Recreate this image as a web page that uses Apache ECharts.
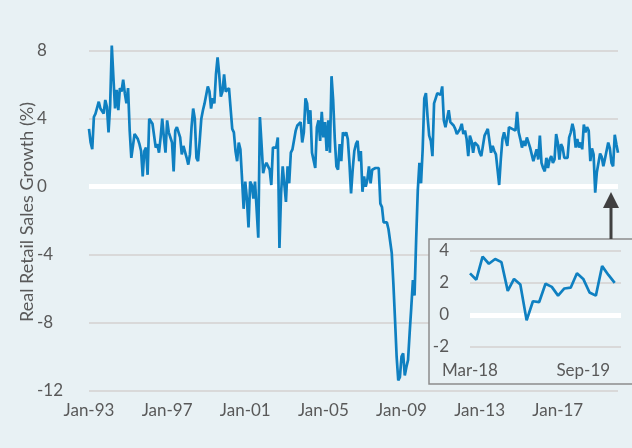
<!DOCTYPE html>
<html>
<head>
<meta charset="utf-8">
<script src="https://cdn.jsdelivr.net/npm/echarts@6/dist/echarts.min.js"></script>
<style>
  html, body { margin: 0; padding: 0; background: #e8f1f4; }
  #chart { width: 632px; height: 448px; }
</style>
</head>
<body>
<div id="chart"></div>
<script>
  // real retail sales growth (%), monthly from Jan-93
  var growth1993to1997 = [
    3.4, 2.6, 2.2, 4.1, 4.3, 4.2, 5.0, 4.6, 4.5, 4.3, 5.1, 4.7,
    3.2, 4.8, 8.3, 6.4, 4.6, 5.7, 4.5, 5.8, 5.6, 6.3, 5.5, 4.9,
    5.8, 3.3, 1.7, 1.7, 3.1, 3.2, 2.8, 2.5, 2.1, 0.6, 2.1, 2.3,
    0.7, 4.0, 3.9, 3.7, 3.6, 2.3, 2.5, 2.0, 2.9, 4.0, 2.9, 2.0,
    3.9, 3.2, 3.1, 2.6, 0.9, 3.3, 3.5, 3.6, 2.9, 1.9, 2.4, 2.4
  ]
  var growth1998to2002 = [
    1.7, 1.3, 1.9, 3.5, 4.6, 4.0, 1.7, 1.5, 2.7, 4.0, 4.5, 4.9,
    5.0, 5.9, 5.6, 4.6, 5.2, 4.9, 6.6, 7.6, 6.6, 5.3, 5.6, 6.6,
    5.6, 5.7, 5.8, 4.6, 3.4, 3.2, 2.1, 1.5, 2.6, 2.2, 0.5, -1.3,
    0.3, -0.7, -2.4, 0.3, 0.1, -0.7, 0.3, 0.3, -3.0, 4.1, 2.5, 0.8,
    1.2, 1.4, 1.5, 1.0, 0.1, 2.3, 2.4, 2.3, 2.9, -3.6, -0.4, 1.2
  ]
  var growth2003to2007 = [
    1.3, -0.9, 1.2, 0.2, 2.0, 2.2, 2.3, 3.3, 3.6, 3.5, 3.8, 2.6,
    3.2, 5.2, 4.9, 3.7, 4.5, 2.0, 1.9, 1.1, 3.5, 3.9, 2.7, 4.4,
    2.9, 3.8, 2.1, 3.9, 2.0, 6.5, 5.1, 2.8, 1.2, 1.0, 2.5, 1.5,
    3.2, 3.0, 3.2, 2.8, 1.4, -0.4, 1.0, 2.1, 2.5, 2.7, 1.5, 2.1,
    -0.3, 0.6, 0.0, 0.4, 1.2, 0.2, 1.0, 1.1, 1.1, 1.1, 1.1, -1.0
  ]
  var growth2008to2012 = [
    -1.2, -2.1, -2.2, -2.1, -2.5, -2.6, -3.9, -5.7, -7.8, -10.0, -11.4, -11.2,
    -10.0, -9.8, -11.1, -10.6, -10.2, -8.6, -7.1, -5.5, -6.4, -3.1, -0.2, 1.4,
    0.2, 2.2, 5.2, 5.5, 4.1, 3.0, 2.7, 1.8, 4.9, 5.2, 5.5, 5.6,
    5.4, 5.9, 3.9, 3.5, 4.0, 4.5, 3.8, 3.9, 3.6, 3.4, 3.1, 3.0,
    3.4, 3.7, 3.1, 3.3, 2.8, 1.8, 3.0, 2.7, 2.0, 2.6, 2.7, 2.4
  ]
  // Jan-13 .. Feb-18
  var growth2013to2018 = [
    2.0, 1.8, 2.4, 3.0, 3.2, 3.4, 2.7, 2.0, 2.4, 2.1, 1.9, 1.0,
    0.1, 1.6, 2.8, 3.2, 2.8, 2.4, 3.5, 3.5, 3.4, 3.5, 3.3, 4.4,
    3.2, 2.8, 2.3, 2.7, 2.4, 2.9, 3.0, 2.3, 2.2, 1.5, 1.4, 2.2,
    1.6, 3.0, 1.4, 1.1, 0.9, 1.7, 1.1, 1.6, 1.8, 1.4, 1.6, 3.1,
    2.6, 1.6, 2.5, 2.3, 1.7, 1.7, 1.7, 2.9, 3.2, 3.7, 3.3, 2.3,
    2.8, 2.3
  ]
  // Mar-18 .. Feb-20 (also shown in the inset)
  var growthRecent = [
    2.6, 2.2, 3.65, 3.2, 3.5, 3.3, 1.5, 2.25, 1.9, -0.35, 0.85, 0.8,
    1.95, 1.75, 1.2, 1.65, 1.7, 2.6, 2.25, 1.4, 1.2, 3.05, 2.5, 2.0
  ]

  var growth = [].concat(growth1993to1997, growth1998to2002, growth2003to2007,
    growth2008to2012, growth2013to2018, growthRecent)

  var monthNames = ['Jan', 'Feb', 'Mar', 'Apr', 'May', 'Jun', 'Jul', 'Aug', 'Sep', 'Oct', 'Nov', 'Dec']
  var months = []
  for (var i = 0; i < growth.length; i++) {
    var yy = (93 + Math.floor(i / 12)) % 100
    months.push(monthNames[i % 12] + '-' + (yy < 10 ? '0' + yy : yy))
  }
  var recentMonths = months.slice(months.length - growthRecent.length)

  var mainTicks = { min: -12, max: 8, interval: 4 }
  var insetTicks = { min: -2, max: 4, interval: 2 }

  var bg = '#e8f1f4'
  var lineColor = '#0f80c1'
  var gridColor = '#d9d9d9'
  var textColor = '#595959'
  var font = 'Lato, "Open Sans", sans-serif'

  var chart = echarts.init(document.getElementById('chart'), null, { renderer: 'canvas' })

  var option = {
    backgroundColor: bg,
    animation: false,
    textStyle: { fontFamily: font },
    grid: [
      { left: 89, right: 14, top: 50.7, bottom: 57.3 },
      { left: 470, right: 11, top: 251, bottom: 101.3, z: 5 }
    ],
    xAxis: [{
      type: 'category',
      gridIndex: 0,
      data: months,
      boundaryGap: false,
      axisLine: { show: false },
      axisTick: { show: false },
      splitLine: { show: false },
      axisLabel: { interval: 47, margin: 11, color: textColor, fontSize: 17, fontFamily: font }
    }, {
      type: 'category',
      gridIndex: 1,
      data: recentMonths,
      max: 24,
      boundaryGap: false,
      z: 6,
      axisLine: { show: false },
      axisTick: { show: false },
      splitLine: { show: false },
      axisLabel: { interval: 17, margin: 15, color: textColor, fontSize: 17, fontFamily: font }
    }],
    yAxis: [{
      type: 'value',
      gridIndex: 0,
      min: mainTicks.min,
      max: mainTicks.max,
      interval: mainTicks.interval,
      axisLine: { show: false },
      axisTick: { show: false },
      axisLabel: { margin: 52, align: 'left', color: textColor, fontSize: 17, fontFamily: font },
      splitLine: { lineStyle: { color: gridColor, width: 2 } }
    }, {
      type: 'value',
      gridIndex: 1,
      min: insetTicks.min,
      max: insetTicks.max,
      interval: insetTicks.interval,
      z: 6,
      axisLine: { show: false },
      axisTick: { show: false },
      axisLabel: { margin: 21, color: textColor, fontSize: 17, fontFamily: font },
      splitLine: { lineStyle: { color: gridColor, width: 2 } }
    }],
    series: [{
      type: 'line',
      xAxisIndex: 0,
      yAxisIndex: 0,
      data: growth,
      showSymbol: false,
      clip: false,
      z: 3,
      lineStyle: { color: lineColor, width: 2.7 },
      markLine: {
        silent: true,
        symbol: 'none',
        z: 2,
        label: { show: false },
        lineStyle: { color: '#ffffff', width: 5, type: 'solid' },
        data: [{ yAxis: 0 }]
      }
    }, {
      type: 'line',
      xAxisIndex: 1,
      yAxisIndex: 1,
      data: growthRecent,
      showSymbol: false,
      z: 8,
      lineStyle: { color: lineColor, width: 2.7 },
      markLine: {
        silent: true,
        symbol: 'none',
        z: 7,
        label: { show: false },
        lineStyle: { color: '#ffffff', width: 5, type: 'solid' },
        data: [{ yAxis: 0 }]
      }
    }],
    graphic: [{
      type: 'text',
      x: 27,
      y: 212,
      rotation: Math.PI / 2,
      style: {
        text: 'Real Retail Sales Growth (%)',
        fill: textColor,
        font: '18px ' + font,
        align: 'center',
        verticalAlign: 'middle'
      }
    }, {
      // inset frame
      type: 'rect',
      z: 4,
      shape: { x: 429, y: 239, width: 220, height: 145 },
      style: { fill: bg, stroke: '#8c8c8c', lineWidth: 1.5 }
    }, {
      // arrow pointing at the recent months
      type: 'line',
      z: 4,
      shape: { x1: 611, y1: 206, x2: 611, y2: 239 },
      style: { stroke: '#404040', lineWidth: 3 }
    }, {
      type: 'polygon',
      z: 4,
      shape: { points: [[611, 192], [603, 208], [619, 208]] },
      style: { fill: '#404040' }
    }]
  }

  chart.setOption(option)
</script>
</body>
</html>
